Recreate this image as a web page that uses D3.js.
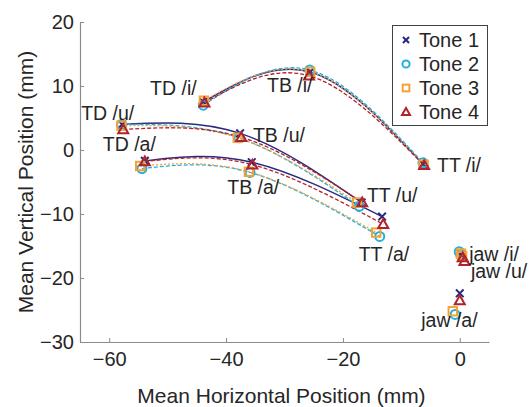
<!DOCTYPE html>
<html><head><meta charset="utf-8">
<script src="https://cdn.jsdelivr.net/npm/d3@7"></script>
<style>body{margin:0;background:#fff}svg{display:block}</style>
</head><body>
<svg id="c" width="530" height="407"></svg>
<script>
// point order: TD/i, TB/i, TT/i, TD/u, TB/u, TT/u, TD/a, TB/a, TT/a, jaw/i, jaw/u, jaw/a
const pointNames = ["TD /i/","TB /i/","TT /i/","TD /u/","TB /u/","TT /u/","TD /a/","TB /a/","TT /a/","jaw /i/","jaw /u/","jaw /a/"];
const tones = ["Tone 1","Tone 2","Tone 3","Tone 4"];
const tone1X = [-43.9, -25.6, -6.3, -57.8, -37.6, -16.8, -53.9, -35.6, -13.3, 0.2, 0.4, 0.0];
const tone1Y = [7.5, 12.2, -2.2, 4.0, 2.6, -8.2, -1.7, -1.9, -10.4, -16.2, -16.6, -22.4];
const tone2X = [-43.9, -25.7, -6.3, -57.9, -37.8, -17.2, -54.4, -35.9, -13.7, -0.1, 0.1, -0.8];
const tone2Y = [7.0, 12.5, -2.0, 4.0, 1.9, -8.8, -2.9, -3.5, -13.5, -15.9, -16.3, -25.7];
const tone3X = [-43.8, -25.6, -6.2, -57.9, -38.0, -17.6, -54.7, -36.1, -14.3, 0.2, 0.4, -1.2];
const tone3Y = [7.7, 12.2, -2.3, 3.8, 1.9, -8.2, -2.5, -3.4, -12.9, -16.2, -16.6, -25.2];
const tone4X = [-43.7, -25.8, -6.1, -57.6, -37.4, -16.7, -53.9, -35.5, -13.1, 0.5, 0.8, 0.0];
const tone4Y = [7.4, 11.6, -2.4, 3.2, 2.0, -8.2, -1.8, -2.3, -11.6, -16.8, -17.4, -23.5];
const xTicks = [-60, -40, -20, 0];
const yTicks = [-30, -20, -10, 0, 10, 20];
// curves connect TD-TB-TT for each vowel
const vowelCurves = [[0,1,2],[3,4,5],[6,7,8]];
// annotation labels: text with left/baseline anchor in data units
const labelText = ["TD /i/","TB /i/","TD /u/","TB /u/","TD /a/","TB /a/","TT /i/","TT /u/","TT /a/","jaw /i/","jaw /u/","jaw /a/"];
const labelX = [-53.0, -33.0, -64.8, -35.4, -61.1, -39.8, -3.9, -15.9, -17.3, 1.6, 1.9, -6.6];
const labelY = [8.6, 9.1, 4.7, 1.3, -0.1, -6.8, -3.4, -8.2, -17.4, -17.4, -20.0, -27.7];

const W = 530, H = 407;
const m = {l:80, r:41, t:22, b:65};
const x = d3.scaleLinear().domain([-65, 5]).range([m.l, W - m.r]);
const y = d3.scaleLinear().domain([-30, 20]).range([H - m.b, m.t]);
const svg = d3.select("#c");
const font = "'Liberation Sans', Arial, Helvetica, sans-serif";
const txtCol = "#262626";
const axCol = "#8c8c8c";

const seriesX = [tone1X, tone2X, tone3X, tone4X];
const seriesY = [tone1Y, tone2Y, tone3Y, tone4Y];
const colors = ["#2a2a80", "#22b0e0", "#f5a133", "#b2222a"];
const dashes = [null, "4,2", "2,2", "4,2"];
const widths = [1.5, 1.3, 1.3, 1.3];

// axes
const xAxis = d3.axisBottom(x).tickValues(xTicks).tickSizeInner(-4).tickSizeOuter(0).tickPadding(10)
  .tickFormat(d => d < 0 ? "\u2212" + Math.abs(d) : d);
const yAxis = d3.axisLeft(y).tickValues(yTicks).tickSizeInner(-4).tickSizeOuter(0).tickPadding(6)
  .tickFormat(d => d < 0 ? "\u2212" + Math.abs(d) : d);
const gx = svg.append("g").attr("transform", `translate(0,${H - m.b})`).call(xAxis);
const gy = svg.append("g").attr("transform", `translate(${m.l},0)`).call(yAxis);
[gx, gy].forEach(g => {
  g.select(".domain").attr("stroke", axCol).attr("stroke-width", 1.2);
  g.selectAll(".tick line").attr("stroke", axCol);
  g.selectAll(".tick text").attr("fill", txtCol).style("font-family", font).style("font-size", "20px");
});
gx.selectAll(".tick text").attr("dy", "0.71em");

// axis titles
svg.append("text").attr("x", (m.l + W - m.r) / 2 - 3).attr("y", 403).attr("text-anchor", "middle")
  .attr("fill", txtCol).style("font-family", font).style("font-size", "21px").text("Mean Horizontal Position (mm)");
svg.append("text").attr("transform", `translate(33,${(m.t + H - m.b) / 2}) rotate(-90)`).attr("text-anchor", "middle")
  .attr("fill", txtCol).style("font-family", font).style("font-size", "21px").text("Mean Vertical Position (mm)");

// curves
const line = d3.line().x(d => x(d[0])).y(d => y(d[1])).curve(d3.curveNatural);
const order = [0, 1, 2, 3];
order.forEach(t => {
  vowelCurves.forEach(idx => {
    const pts = idx.map(i => [seriesX[t][i], seriesY[t][i]]);
    svg.append("path").attr("d", line(pts)).attr("fill", "none")
      .attr("stroke", colors[t]).attr("stroke-width", widths[t])
      .attr("stroke-dasharray", dashes[t]);
  });
});

// marker drawing
function marker(g, t, cx, cy, s) {
  const c = colors[t];
  if (t === 0) {
    const h = s * 0.38;
    g.append("path").attr("d", `M${cx-h},${cy-h}L${cx+h},${cy+h}M${cx-h},${cy+h}L${cx+h},${cy-h}`)
      .attr("stroke", c).attr("stroke-width", 2).attr("fill", "none");
  } else if (t === 1) {
    g.append("circle").attr("cx", cx).attr("cy", cy).attr("r", s * 0.45)
      .attr("fill", "none").attr("stroke", c).attr("stroke-width", 2);
  } else if (t === 2) {
    const h = s * 0.42;
    g.append("rect").attr("x", cx - h).attr("y", cy - h).attr("width", 2 * h).attr("height", 2 * h)
      .attr("fill", "none").attr("stroke", c).attr("stroke-width", 2);
  } else {
    const h = s * 0.5;
    g.append("path").attr("d", `M${cx},${cy-h}L${cx+h},${cy+h*0.75}L${cx-h},${cy+h*0.75}Z`)
      .attr("fill", "none").attr("stroke", c).attr("stroke-width", 2);
  }
}
const mg = svg.append("g");
order.forEach(t => {
  seriesX[t].forEach((vx, i) => marker(mg, t, x(vx), y(seriesY[t][i]), 10));
});

// annotation labels
svg.append("g").selectAll("text").data(labelText).join("text")
  .attr("x", (d, i) => x(labelX[i])).attr("y", (d, i) => y(labelY[i]))
  .attr("fill", txtCol).style("font-family", font).style("font-size", "19.5px").text(d => d);

// legend
const lg = svg.append("g");
lg.append("rect").attr("x", 392.5).attr("y", 25.5).attr("width", 95).attr("height", 100)
  .attr("fill", "#fff").attr("stroke", "#404040").attr("stroke-width", 1);
tones.forEach((tn, t) => {
  const cy = 40 + t * 24;
  marker(lg, t, 406, cy, 8);
  lg.append("text").attr("x", 419).attr("y", cy + 7).attr("fill", txtCol)
    .style("font-family", font).style("font-size", "20px").text(tn);
});
</script>
</body></html>
